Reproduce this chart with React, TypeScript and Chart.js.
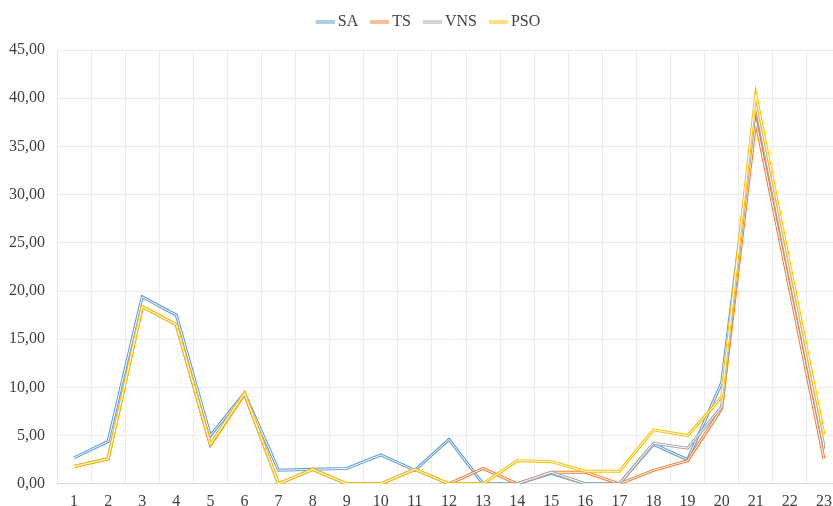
import React, { useEffect, useRef } from "react";
import { Chart, registerables } from "chart.js";

Chart.register(...registerables);

const categories = ["1","2","3","4","5","6","7","8","9","10","11","12","13","14","15","16","17","18","19","20","21","22","23"];
const seriesNames = ["SA", "TS", "VNS", "PSO"];
const seriesColors = ["#5B9BD5", "#ED7D31", "#A5A5A5", "#FFC000"];
const saValues = [2.7, 4.4, 19.4, 17.5, 5.0, 9.4, 1.4, 1.5, 1.6, 3.0, 1.4, 4.6, 0, 0, 1.1, 0, 0, 4.1, 2.5, 10.5, 38.9, 21.0, 3.6];
const tsValues = [1.8, 2.6, 18.4, 16.5, 4.0, 9.3, 0, 1.5, 0, 0, 1.5, 0, 1.6, 0, 1.2, 1.2, 0, 1.4, 2.4, 7.8, 37.6, 20.1, 2.6];
const vnsValues = [1.8, 2.6, 18.4, 16.5, 4.1, 9.4, 0, 1.5, 0, 0, 1.5, 0, 0, 0, 1.2, 0, 0, 4.2, 3.7, 8.0, 39.3, 21.5, 3.9];
const psoValues = [1.8, 2.6, 18.4, 16.5, 4.1, 9.4, 0, 1.5, 0, 0, 1.5, 0, 0, 2.4, 2.3, 1.3, 1.3, 5.6, 5.0, 9.0, 40.4, 22.7, 5.1];
const allValues = [saValues, tsValues, vnsValues, psoValues];

const FONT = "'Liberation Serif', 'DejaVu Serif', serif";
const TEXT = "#404040";

function makeIcon(color: string): HTMLCanvasElement {
  const c = document.createElement("canvas");
  c.width = 30;
  c.height = 6;
  const g = c.getContext("2d")!;
  g.strokeStyle = color;
  g.lineWidth = 3;
  g.beginPath();
  g.moveTo(11, 3);
  g.lineTo(30, 3);
  g.stroke();
  g.strokeStyle = "#ffffff";
  g.lineWidth = 1;
  g.beginPath();
  g.moveTo(11, 3);
  g.lineTo(30, 3);
  g.stroke();
  return c;
}

const doubleLine = {
  id: "doubleLine",
  afterDatasetDraw(chart: any, args: any) {
    const pts = args.meta.data;
    const ctx = chart.ctx;
    const a = chart.chartArea;
    ctx.save();
    ctx.beginPath();
    ctx.rect(a.left, a.top - 2, a.right - a.left, a.bottom - a.top + 4);
    ctx.clip();
    ctx.beginPath();
    pts.forEach((p: any, i: number) => (i ? ctx.lineTo(p.x, p.y) : ctx.moveTo(p.x, p.y)));
    ctx.strokeStyle = "#ffffff";
    ctx.lineWidth = 1;
    ctx.stroke();
    ctx.restore();
  },
};

const legendSpace = {
  id: "legendSpace",
  beforeInit(chart: any) {
    const orig = chart.legend.fit;
    chart.legend.fit = function () {
      orig.bind(chart.legend)();
      this.height += 10;
    };
  },
};

export default function App() {
  const ref = useRef<HTMLCanvasElement>(null);
  useEffect(() => {
    const icons = seriesColors.map(makeIcon);
    const order = [3, 2, 1, 0];
    const chart = new Chart(ref.current!, {
      type: "line",
      data: {
        labels: categories,
        datasets: order.map((i) => ({
          label: seriesNames[i],
          data: allValues[i],
          borderColor: seriesColors[i],
          backgroundColor: seriesColors[i],
          borderWidth: 3,
          pointRadius: 0,
          tension: 0,
          fill: false,
        })),
      },
      options: {
        animation: false,
        responsive: false,
        layout: { padding: { left: 9, right: 9, top: 8, bottom: 0 } },
        plugins: {
          tooltip: { enabled: false },
          legend: {
            position: "top",
            labels: {
              usePointStyle: true,
              pointStyleWidth: 20,
              padding: 6,
              color: TEXT,
              font: { family: FONT, size: 16 },
              generateLabels: () =>
                seriesNames.map((n, i) => ({
                  text: n,
                  pointStyle: icons[i],
                  fillStyle: "transparent",
                  strokeStyle: "transparent",
                  lineWidth: 0,
                  hidden: false,
                  fontColor: TEXT,
                  datasetIndex: order.indexOf(i),
                })),
            },
          },
        },
        scales: {
          x: {
            offset: true,
            grid: { offset: true, color: "#ececec", drawTicks: false },
            border: { color: "#d9d9d9", width: 1 },
            ticks: { color: TEXT, font: { family: FONT, size: 16 }, padding: 8, maxRotation: 0, autoSkip: false },
          },
          y: {
            min: 0,
            max: 45,
            afterFit: (s: any) => {
              s.width = 48;
            },
            grid: { color: "#ececec", drawTicks: false },
            border: { color: "#e6e6e6", width: 1 },
            ticks: {
              stepSize: 5,
              color: TEXT,
              font: { family: FONT, size: 16 },
              padding: 12,
              callback: (v: any) => Number(v).toFixed(2).replace(".", ","),
            },
          },
        },
      },
      plugins: [doubleLine, legendSpace],
    });
    return () => chart.destroy();
  }, []);
  return (
    <div style={{ position: "fixed", left: 0, top: 0, width: 833, height: 506, overflow: "hidden", background: "#fff" }}>
      <canvas ref={ref} width={850} height={519} style={{ display: "block" }} />
    </div>
  );
}
